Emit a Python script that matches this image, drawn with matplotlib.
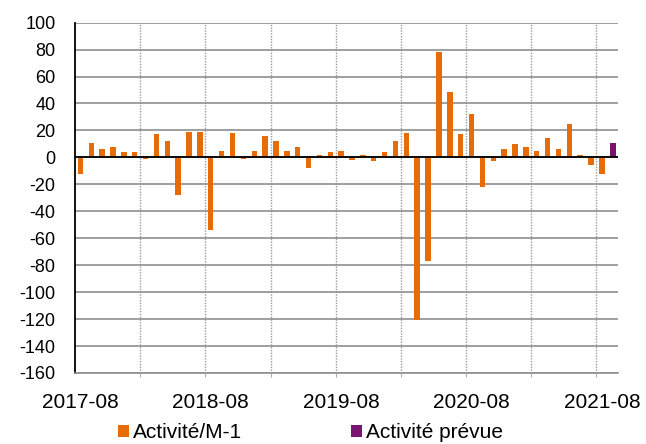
import matplotlib
matplotlib.use("Agg")
import matplotlib.pyplot as plt
import numpy as np
import pandas as pd

plt.rcParams['font.family'] = ['Liberation Sans', 'DejaVu Sans']
plt.rcParams['axes.unicode_minus'] = False

# mois de 2017-08 à 2021-09
mois = [str(p) for p in pd.period_range('2017-08', periods=50, freq='M')]

activite_m1 = [-12, 11, 6, 7.5, 4, 4, -1, 17, 12, -28, 19, 19, -54,
               5, 18, -1, 5, 16, 12, 5, 7.5, -8, 1.5, 4, 5,
               -2, 1.5, -3, 4, 12, 18, -121, -77, 78, 48.5, 17, 32,
               -22, -3, 6, 10, 7.5, 5, 14.5, 6, 25, 1.5, -5.5, -12, np.nan]
activite_prevue = [np.nan] * 49 + [11]

labels_x = ['2017-08', '2018-08', '2019-08', '2020-08', '2021-08']

orange = '#E66C0A'
violet = '#7A1470'

fig = plt.figure(figsize=(6.46, 4.44), dpi=100)
ax = fig.add_axes([0.116, 0.160, 0.841, 0.789])

x = np.arange(len(mois))
ax.bar(x, activite_m1, width=0.5, color=orange, zorder=2, label='Activité/M-1')
ax.bar(x, activite_prevue, width=0.5, color=violet, zorder=2, label='Activité prévue')

ax.set_xlim(-0.5, len(mois) - 0.5)
ax.set_ylim(-160, 100)
ax.set_yticks(np.arange(-160, 101, 20))
ax.yaxis.grid(True, color='#8f8f8f', linewidth=1.2, zorder=0)
ax.tick_params(axis='y', length=0, labelsize=13, pad=14)

# lignes verticales pointillées tous les 6 mois
for b in np.arange(5.5, len(mois) - 1, 6):
    ax.axvline(b, color='#9a9a9a', linestyle=(0, (1, 1)), linewidth=1.0, zorder=1)

ax.set_xticks(np.arange(5.5, len(mois) - 1, 6), minor=True)
ax.tick_params(axis='x', which='minor', length=3, color='#9a9a9a', direction='out')
ax.set_xticks([mois.index(l) for l in labels_x])
ax.set_xticklabels(labels_x)
ax.tick_params(axis='x', which='major', length=0, labelsize=15, pad=14.5)

ax.axhline(0, color='black', linewidth=1.3, zorder=3)

ax.spines['top'].set_visible(False)
ax.spines['right'].set_visible(False)
ax.spines['left'].set_color('black')
ax.spines['left'].set_linewidth(1.3)
ax.spines['bottom'].set_color('#8f8f8f')
ax.spines['bottom'].set_linewidth(1.2)

fig.legend(loc='lower left', bbox_to_anchor=(0.183, 0.004), ncol=2, frameon=False,
           fontsize=15, handlelength=0.53, handleheight=0.53, handletextpad=0.2,
           columnspacing=5.2, borderpad=0, borderaxespad=0)

fig.savefig('out.png', dpi=100)
